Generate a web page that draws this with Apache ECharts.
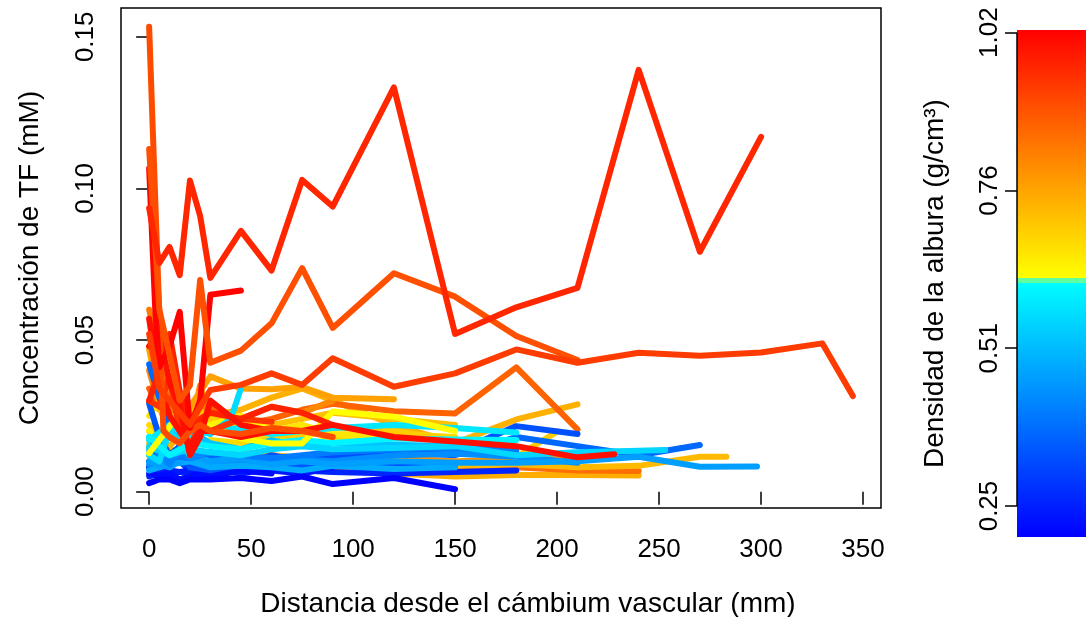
<!DOCTYPE html>
<html>
<head>
<meta charset="utf-8">
<title>Concentración de TF</title>
<script src="https://cdn.jsdelivr.net/npm/echarts@6/dist/echarts.min.js"></script>
<style>
html, body { margin: 0; padding: 0; background: #fff; }
#chart { width: 1086px; height: 617px; }
</style>
</head>
<body>
<div id="chart"></div>
<script>
// densidad de la albura (g/cm3) de cada muestra
const densidad = [
  0.75, 0.85, 0.79, 0.73, 0.745, 0.87, 0.81, 0.83, 0.72, 0.68, 0.70, 0.66, 0.64, 0.77,
  0.26, 0.29, 0.24, 0.22, 0.20, 0.34, 0.37, 0.33, 0.43, 0.48, 0.46, 0.40, 0.42, 0.52,
  0.55, 0.56, 0.58, 0.60, 0.62,
  0.94, 0.97, 1.00, 1.00, 0.905, 1.02, 0.90, 0.93, 0.965
]

// distancia desde el cambium vascular (mm)
const distancias = [
  [0, 10, 20, 30, 45, 60, 90, 120, 150, 180, 210, 240],
  [0, 10, 20, 30, 45, 60, 90, 120, 150, 180, 210, 240],
  [0, 10, 20, 30, 45, 60, 75, 90, 120, 150, 180, 210],
  [0, 10, 20, 30, 45, 60, 90, 120, 150, 180, 210, 240, 270, 283],
  [0, 10, 20, 30, 45, 60, 75, 90, 120, 150, 180, 210],
  [0, 5, 10, 15, 20, 25, 30, 45, 60, 75, 90, 120, 150, 180, 210],
  [0, 5, 10, 15, 20, 25, 30, 45, 60, 75, 90],
  [0, 5, 10, 15, 20, 25, 30, 45, 60],
  [0, 10, 20, 30, 45, 60, 75, 90, 120, 150],
  [0, 10, 20, 30, 45, 60, 75, 90, 120, 150],
  [0, 5, 10, 15, 20, 30, 45, 60, 75, 90, 120, 150, 180, 200],
  [0, 5, 10, 15, 20, 30, 45, 60, 75, 90, 120],
  [0, 5, 10, 20, 30, 45, 60],
  [0, 5, 10, 15, 20, 30, 45, 60, 75, 90, 120],
  [0, 10, 20, 30, 45, 60, 75, 90, 120, 150, 180],
  [0, 5, 10, 15, 20, 25, 30, 45, 60, 75, 90, 120, 150],
  [0, 10, 20, 30, 45, 60, 75, 90],
  [0, 5, 10, 15, 20, 25, 30, 45, 60],
  [0, 5, 10, 15, 20, 30, 45, 60, 75, 90, 120, 150],
  [0, 5, 10, 15, 20, 30, 45, 60, 75, 90, 120],
  [0, 10, 20, 30, 45, 60, 75, 90, 120, 150, 180, 210, 240, 270],
  [0, 10, 20, 30, 45, 60, 75, 90, 120, 150, 180, 210],
  [0, 15, 30, 45, 60, 90, 120, 150, 180, 210],
  [0, 10, 20, 30, 45, 60, 75, 90, 120, 150],
  [0, 10, 20, 30, 45, 60, 75, 90, 120, 150, 180, 210, 240, 270, 298],
  [0, 10, 20, 30, 45, 60, 75, 90, 120, 150, 180],
  [0, 5, 10, 15, 20, 30],
  [0, 10, 20, 30, 45, 60, 75, 90, 120, 150],
  [0, 10, 20, 30, 45, 60, 75, 90, 120, 150, 180, 210, 240, 253],
  [0, 5, 10, 15, 20, 25, 30, 40, 45],
  [0, 10, 20, 30, 45, 60, 90, 120, 150, 180],
  [0, 10, 20, 30, 45, 60, 75, 90, 120, 150, 180],
  [0, 15, 30, 45, 60, 75, 90, 120, 150],
  [0, 5, 10, 15, 20, 25, 30, 45, 60],
  [0, 5, 10, 15, 20, 25, 30, 45, 60, 75, 90],
  [0, 5, 10, 15, 20, 25, 30, 45, 60],
  [0, 5, 10, 15, 20, 25, 30, 45, 60, 75, 90, 120, 150, 180, 210, 228],
  [0, 7, 10, 15, 20, 25, 30, 45, 60, 75, 90],
  [0, 3, 5, 10, 15, 20, 25, 30, 45],
  [0, 5, 10, 15, 20, 25, 30, 45, 60, 75, 90, 120, 150, 180, 210],
  [0, 5, 10, 15, 20, 25, 30, 45, 60, 75, 90, 120, 150, 180, 210, 240, 270, 300, 330, 345],
  [0, 5, 10, 15, 20, 25, 30, 45, 60, 75, 90, 120, 150, 180, 210, 240, 270, 300]
]

// concentracion de TF (mM)
const concentraciones = [
  [0.012, 0.010, 0.012, 0.009, 0.008, 0.0085, 0.007, 0.006, 0.005, 0.0055, 0.0055, 0.0053],
  [0.008, 0.010, 0.009, 0.012, 0.010, 0.011, 0.009, 0.008, 0.0085, 0.008, 0.007, 0.0068],
  [0.010, 0.012, 0.014, 0.011, 0.013, 0.012, 0.011, 0.012, 0.011, 0.010, 0.0105, 0.011],
  [0.016, 0.014, 0.012, 0.013, 0.011, 0.012, 0.010, 0.010, 0.0085, 0.009, 0.008, 0.0085, 0.0115, 0.0115],
  [0.020, 0.015, 0.022, 0.025, 0.027, 0.031, 0.034, 0.030, 0.022, 0.016, 0.0238, 0.0288],
  [0.034, 0.028, 0.020, 0.022, 0.025, 0.027, 0.028, 0.022, 0.024, 0.027, 0.029, 0.0265, 0.0258, 0.041, 0.0205],
  [0.040, 0.028, 0.025, 0.016, 0.020, 0.035, 0.022, 0.024, 0.028, 0.026, 0.030],
  [0.060, 0.045, 0.030, 0.020, 0.018, 0.030, 0.025, 0.021, 0.020],
  [0.030, 0.024, 0.028, 0.025, 0.023, 0.022, 0.024, 0.026, 0.024, 0.022],
  [0.022, 0.018, 0.015, 0.017, 0.016, 0.018, 0.016, 0.017, 0.019, 0.018],
  [0.015, 0.020, 0.018, 0.022, 0.025, 0.024, 0.020, 0.019, 0.018, 0.021, 0.020, 0.017, 0.0115, 0.0198],
  [0.025, 0.030, 0.020, 0.018, 0.024, 0.022, 0.021, 0.020, 0.022, 0.019, 0.018],
  [0.020, 0.016, 0.024, 0.020, 0.022, 0.025, 0.021],
  [0.047, 0.030, 0.022, 0.018, 0.028, 0.038, 0.034, 0.0338, 0.0345, 0.031, 0.0305],
  [0.005, 0.007, 0.006, 0.008, 0.006, 0.0075, 0.007, 0.0065, 0.006, 0.0065, 0.007],
  [0.010, 0.008, 0.009, 0.010, 0.007, 0.009, 0.008, 0.010, 0.0085, 0.008, 0.0085, 0.009, 0.009],
  [0.008, 0.006, 0.007, 0.006, 0.008, 0.007, 0.006, 0.008],
  [0.006, 0.005, 0.006, 0.004, 0.005, 0.006, 0.005, 0.007, 0.006],
  [0.0028, 0.004, 0.004, 0.0028, 0.004, 0.004, 0.0045, 0.0035, 0.005, 0.0025, 0.0045, 0.0008],
  [0.029, 0.018, 0.012, 0.015, 0.008, 0.007, 0.009, 0.0085, 0.008, 0.009, 0.008],
  [0.042, 0.020, 0.012, 0.011, 0.012, 0.010, 0.011, 0.012, 0.013, 0.012, 0.018, 0.015, 0.012, 0.0154],
  [0.008, 0.010, 0.009, 0.010, 0.009, 0.012, 0.010, 0.011, 0.012, 0.013, 0.0216, 0.019],
  [0.009, 0.012, 0.008, 0.010, 0.011, 0.010, 0.012, 0.0125, 0.0115, 0.0095],
  [0.007, 0.009, 0.010, 0.008, 0.0085, 0.008, 0.007, 0.0085, 0.0075, 0.008],
  [0.010, 0.008, 0.012, 0.010, 0.011, 0.009, 0.010, 0.009, 0.010, 0.0095, 0.0095, 0.010, 0.0115, 0.0082, 0.0083],
  [0.013, 0.012, 0.011, 0.013, 0.012, 0.011, 0.012, 0.013, 0.014, 0.0145, 0.0135],
  [0.018, 0.012, 0.009, 0.014, 0.011, 0.013],
  [0.014, 0.019, 0.020, 0.016, 0.014, 0.017, 0.015, 0.016, 0.0155, 0.015],
  [0.015, 0.012, 0.014, 0.013, 0.012, 0.014, 0.015, 0.014, 0.0144, 0.015, 0.012, 0.013, 0.0135, 0.0137],
  [0.012, 0.010, 0.020, 0.016, 0.012, 0.020, 0.019, 0.024, 0.034],
  [0.017, 0.022, 0.018, 0.020, 0.021, 0.019, 0.021, 0.022, 0.021, 0.0195],
  [0.018, 0.012, 0.016, 0.015, 0.014, 0.016, 0.017, 0.016, 0.0175, 0.0172, 0.017],
  [0.0127, 0.0258, 0.0214, 0.0176, 0.0159, 0.0159, 0.0264, 0.0247, 0.020],
  [0.030, 0.028, 0.038, 0.020, 0.015, 0.022, 0.020, 0.024, 0.023],
  [0.030, 0.040, 0.052, 0.033, 0.020, 0.024, 0.026, 0.024, 0.028, 0.026, 0.022],
  [0.048, 0.052, 0.036, 0.028, 0.012, 0.018, 0.030, 0.022, 0.020],
  [0.057, 0.035, 0.025, 0.020, 0.015, 0.020, 0.020, 0.018, 0.020, 0.020, 0.022, 0.018, 0.0165, 0.015, 0.0113, 0.0123],
  [0.1533, 0.020, 0.018, 0.016, 0.020, 0.022, 0.020, 0.019, 0.021, 0.020, 0.018],
  [0.1066, 0.060, 0.041, 0.048, 0.0593, 0.021, 0.030, 0.0649, 0.0663],
  [0.113, 0.060, 0.045, 0.030, 0.035, 0.0698, 0.0425, 0.0465, 0.0555, 0.0737, 0.054, 0.072, 0.0643, 0.0513, 0.0434],
  [0.052, 0.034, 0.030, 0.026, 0.022, 0.028, 0.0335, 0.0352, 0.039, 0.0352, 0.044, 0.0346, 0.039, 0.0469, 0.0425, 0.0458, 0.0448, 0.0459, 0.0489, 0.0315],
  [0.0935, 0.0754, 0.0807, 0.0714, 0.1026, 0.0909, 0.0705, 0.086, 0.0729, 0.1028, 0.094, 0.1333, 0.052, 0.0608, 0.0672, 0.1391, 0.0791, 0.117]
]

const xTicks = [0, 50, 100, 150, 200, 250, 300, 350]
const yTicks = [0, 0.05, 0.10, 0.15]
const densTicks = [0.25, 0.5067, 0.7633, 1.02]

const DENS_MIN = 0.1996
const DENS_MAX = 1.0244
const FONT = 'Liberation Sans, Arial, Helvetica, sans-serif'

// azul -> cian por debajo del corte, amarillo -> rojo por encima
function densColor (d) {
  let r, g, b
  if (d < 0.617) {
    r = 0
    g = 255 * (d - DENS_MIN) / (0.617 - DENS_MIN)
    b = 255
  } else {
    r = 255
    g = 255 * (1 - (d - 0.621) / (DENS_MAX - 0.621))
    b = 0
  }
  g = Math.max(0, Math.min(255, Math.round(g)))
  return 'rgb(' + r + ',' + g + ',' + b + ')'
}

function barGradient () {
  const stops = []
  const n = 40
  const split = (DENS_MAX - 0.621) / (DENS_MAX - DENS_MIN)
  const splitLow = (DENS_MAX - 0.613) / (DENS_MAX - DENS_MIN)
  for (let i = 0; i <= n; i++) {
    const off = split * i / n
    stops.push({offset: off, color: densColor(DENS_MAX - off * (DENS_MAX - DENS_MIN))})
  }
  stops.push({offset: split + 0.0001, color: '#60ffa0'})
  stops.push({offset: splitLow - 0.0001, color: '#60ffa0'})
  for (let i = 0; i <= n; i++) {
    const off = splitLow + (1 - splitLow) * i / n
    stops.push({offset: off, color: densColor(DENS_MAX - off * (DENS_MAX - DENS_MIN))})
  }
  return {type: 'linear', x: 0, y: 0, x2: 0, y2: 1, colorStops: stops}
}

const series = densidad.map(function (d, i) {
  return {
    type: 'line',
    xAxisIndex: 0,
    yAxisIndex: 0,
    data: distancias[i].map(function (x, j) { return [x, concentraciones[i][j]] }),
    showSymbol: false,
    symbol: 'none',
    silent: true,
    lineStyle: {width: 6, color: densColor(d), cap: 'round', join: 'round'}
  }
})

series.push({
  type: 'custom',
  xAxisIndex: 1,
  yAxisIndex: 1,
  silent: true,
  data: [[0, DENS_MIN, DENS_MAX]],
  renderItem: function (params, api) {
    const p0 = api.coord([0, DENS_MAX])
    const p1 = api.coord([1, DENS_MIN])
    const a0 = api.coord([0, densTicks[0]])
    const a1 = api.coord([0, densTicks[densTicks.length - 1]])
    return {
      type: 'group',
      children: [
        {type: 'rect', shape: {x: p0[0], y: p0[1], width: p1[0] - p0[0], height: p1[1] - p0[1]}, style: {fill: barGradient()}},
        {type: 'line', shape: {x1: a0[0], y1: a0[1], x2: a1[0], y2: a1[1]}, style: {stroke: '#000', lineWidth: 1.5}}
      ]
    }
  }
})

const chart = echarts.init(document.getElementById('chart'))
chart.setOption({
  animation: false,
  backgroundColor: '#fff',
  textStyle: {fontFamily: FONT},
  grid: [
    {left: 121, top: 8, width: 760, height: 500, outerBoundsMode: 'none', containLabel: false,
      show: true, borderColor: '#000', borderWidth: 1.5, backgroundColor: 'transparent'},
    {left: 1017, top: 30, right: 0, height: 507, outerBoundsMode: 'none', containLabel: false}
  ],
  xAxis: [
    {
      type: 'value',
      gridIndex: 0,
      min: -13.8,
      max: 358.8,
      axisLine: {show: false},
      splitLine: {show: false},
      axisTick: {show: true, customValues: xTicks, length: 13, lineStyle: {color: '#000', width: 1.5}},
      axisLabel: {customValues: xTicks, fontSize: 26, margin: 29, color: '#000', fontFamily: FONT},
      name: 'Distancia desde el cámbium vascular (mm)',
      nameLocation: 'middle',
      nameGap: 82,
      nameTextStyle: {fontSize: 28, color: '#000', fontFamily: FONT, padding: [0, 0, 0, 54]}
    },
    {type: 'value', gridIndex: 1, min: 0, max: 1, show: false}
  ],
  yAxis: [
    {
      type: 'value',
      gridIndex: 0,
      min: -0.0054,
      max: 0.1595,
      axisLine: {show: false},
      splitLine: {show: false},
      axisTick: {show: true, customValues: yTicks, length: 13, lineStyle: {color: '#000', width: 1.5}},
      axisLabel: {customValues: yTicks, rotate: 90, fontSize: 26, margin: 22, color: '#000', fontFamily: FONT,
        formatter: function (v) { return v.toFixed(2) }},
      name: 'Concentración de TF (mM)',
      nameLocation: 'middle',
      nameRotate: 90,
      nameGap: 77,
      nameTextStyle: {fontSize: 28, color: '#000', fontFamily: FONT}
    },
    {
      type: 'value',
      gridIndex: 1,
      position: 'left',
      min: DENS_MIN,
      max: DENS_MAX,
      axisLine: {show: false},
      splitLine: {show: false},
      axisTick: {show: true, customValues: densTicks, length: 12, lineStyle: {color: '#000', width: 1.5}},
      axisLabel: {customValues: densTicks, rotate: 90, fontSize: 26, margin: 14, color: '#000', fontFamily: FONT,
        formatter: function (v) { return v.toFixed(2) }},
      name: 'Densidad de la albura (g/cm³)',
      nameLocation: 'middle',
      nameRotate: 90,
      nameGap: 68,
      nameTextStyle: {fontSize: 28, color: '#000', fontFamily: FONT}
    }
  ],
  series: series
})
</script>
</body>
</html>
